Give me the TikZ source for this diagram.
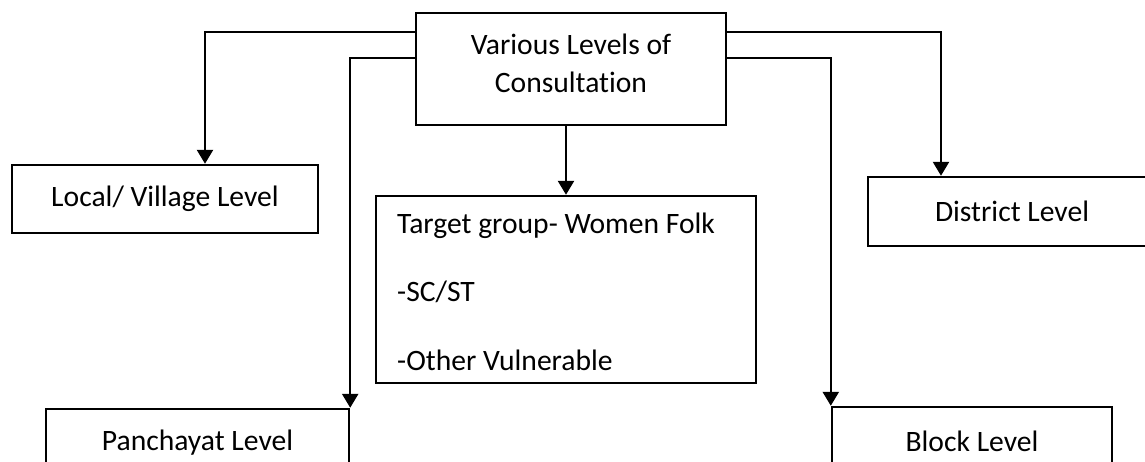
\documentclass[tikz,border=0pt]{standalone}
\usepackage{fontspec}
\setmainfont{Carlito}[Ligatures={NoCommon}]
\usetikzlibrary{arrows.meta,calc}
\tikzset{
  box/.style={draw=black, line width=2.4pt, rectangle, inner sep=0pt, font=\fontsize{29.6pt}{38pt}\selectfont},
  txt/.style={inner sep=0pt, font=\fontsize{29.6pt}{38pt}\selectfont},
  arr/.style={draw=black, line width=2.4pt, -{Triangle[length=14pt,width=16pt]}}
}
\begin{document}
\begin{tikzpicture}[x=1pt,y=-1pt]
\useasboundingbox (0,0) rectangle (1145,461);
\fill[white] (0,0) rectangle (1145,461);
\clip (0,0) rectangle (1145,461);
% top box
\node[box, minimum width=310pt, minimum height=112pt] (top) at (571,69) {};
\node[txt, align=center] (toptext) at (571,63.5) {Various Levels of\\Consultation};
% local
\node[box, minimum width=306pt, minimum height=68pt] (local) at (165,199) {Local/ Village Level};
% target group
\node[box, minimum width=380pt, minimum height=187pt] (target) at (566,289.5) {};
\node[txt, align=left, anchor=west, font=\fontsize{29.6pt}{68.5pt}\selectfont] (targettext) at (397,291.5) {Target group- Women Folk\\-SC/ST\\-Other Vulnerable};
% district
\node[box, minimum width=288pt, minimum height=69pt] (district) at (1012,211.5) {District Level};
% panchayat
\node[box, minimum width=303pt, minimum height=68pt] (panch) at (197.5,443) {Panchayat Level};
% block
\node[box, minimum width=280pt, minimum height=68pt] (block) at (972,441) {Block Level};
% connectors
\draw[arr] ([yshift=-20pt]top.north west) -| ([xshift=40pt]local.north);
\draw[arr] ([yshift=-46pt]top.north west) -| (panch.north east);
\draw[arr] (top.south -| target.north) -- (target.north);
\draw[arr] ([yshift=-20pt]top.north east) -| ([xshift=-71pt]district.north);
\draw[arr] ([yshift=-46pt]top.north east) -| (block.north west);
\end{tikzpicture}
\end{document}
